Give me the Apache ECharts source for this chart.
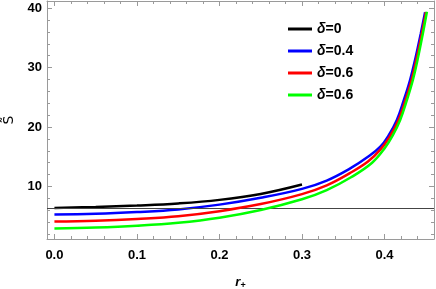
<!DOCTYPE html>
<html>
<head>
<meta charset="utf-8">
<script src="https://cdn.jsdelivr.net/npm/echarts@6/dist/echarts.min.js"></script>
<style>html,body{margin:0;padding:0;background:#fff}#c{width:436px;height:289px}</style>
</head>
<body>
<div id="c"></div>
<script>
// ---- data ----
const legendLabels = ['0', '0.4', '0.6', '0.6'];
const seriesColors = ['#000000', '#0000ff', '#ff0000', '#00ff00'];

const blackX = [0, 0.05, 0.1, 0.15, 0.2, 0.25, 0.3];
const blackY = [6.40, 6.55, 6.80, 7.15, 7.75, 8.75, 10.34];

const blueX = [0, 0.05, 0.1, 0.15, 0.2, 0.25, 0.3, 0.33, 0.358, 0.38, 0.395, 0.405, 0.415, 0.4235, 0.431, 0.437, 0.444, 0.4492];
const blueY = [5.28, 5.40, 5.70, 6.15, 6.95, 8.10, 9.60, 11.0, 13.0, 15.0, 16.7, 18.6, 21.2, 24.56, 27.91, 31.27, 35.75, 39.3];

const redX = [0, 0.05, 0.1, 0.15, 0.2, 0.25, 0.3, 0.33, 0.358, 0.38, 0.395, 0.406, 0.417, 0.4255, 0.4328, 0.4385, 0.4453, 0.4503];
const redY = [4.10, 4.25, 4.55, 5.00, 5.85, 7.05, 8.72, 10.2, 12.25, 14.2, 16.2, 18.3, 21.2, 24.56, 27.91, 31.27, 35.75, 39.35];

const greenX = [0, 0.05, 0.1, 0.15, 0.2, 0.25, 0.3, 0.33, 0.36, 0.385, 0.4, 0.41, 0.419, 0.4272, 0.4344, 0.440, 0.4465, 0.4514];
const greenY = [2.95, 3.10, 3.40, 3.90, 4.75, 6.05, 7.85, 9.4, 11.6, 14.0, 16.4, 18.6, 21.2, 24.56, 27.91, 31.27, 35.75, 39.38];

const refLineY = 6.38;

const xMajorTicks = [0, 0.1, 0.2, 0.3, 0.4];
const xMinorTicks = [0.02, 0.04, 0.06, 0.08, 0.12, 0.14, 0.16, 0.18, 0.22, 0.24, 0.26, 0.28, 0.32, 0.34, 0.36, 0.38, 0.42, 0.44];
const yMajorTicks = [10, 20, 30, 40];
const yMinorTicks = [2, 4, 6, 8, 12, 14, 16, 18, 22, 24, 26, 28, 32, 34, 36, 38];

const xRange = [-0.009, 0.46];
const yRange = [1.17, 41.2];
// --------------------------------------

const zip = (xs, ys) => xs.map((x, i) => [x, ys[i]]);
const allData = [zip(blackX, blackY), zip(blueX, blueY), zip(redX, redY), zip(greenX, greenY)];
const seriesNames = legendLabels.map((l, i) => 's' + i);

const axisGray = '#9a9a9a';
const FONT = 'Liberation Sans, Arial, sans-serif';
const labelFont = { color: '#000', fontWeight: 'bold', fontSize: 13, fontFamily: FONT };

function mkX(pos, ticks, len, showLabel, showLine, extra) {
  return Object.assign({
    type: 'value', position: pos, min: xRange[0], max: xRange[1],
    axisLine: { show: showLine, onZero: false, lineStyle: { color: axisGray, width: 1 } },
    axisTick: { show: true, inside: true, length: len, customValues: ticks, lineStyle: { color: axisGray, width: 1 } },
    axisLabel: showLabel ? Object.assign({ show: true, margin: 10, customValues: ticks, formatter: v => v.toFixed(1) }, labelFont) : { show: false },
    splitLine: { show: false }
  }, extra || {});
}
function mkY(pos, ticks, len, showLabel, showLine, extra) {
  return Object.assign({
    type: 'value', position: pos, min: yRange[0], max: yRange[1],
    axisLine: { show: showLine, onZero: false, lineStyle: { color: axisGray, width: 1 } },
    axisTick: { show: true, inside: true, length: len, customValues: ticks, lineStyle: { color: axisGray, width: 1 } },
    axisLabel: showLabel ? Object.assign({ show: true, margin: 5, customValues: ticks, formatter: v => String(Math.round(v)) }, labelFont) : { show: false },
    splitLine: { show: false }
  }, extra || {});
}

const chart = echarts.init(document.getElementById('c'), null, { renderer: 'canvas' });
chart.setOption({
  animation: false,
  backgroundColor: '#fff',
  grid: { left: 47, right: 2, top: 1, bottom: 50, show: false, containLabel: false, outerBoundsMode: 'none' },
  legend: {
    data: seriesNames,
    orient: 'vertical',
    left: 283, top: 17,
    itemWidth: 24, itemHeight: 3, itemGap: 8, itemTextGap: 10,
    icon: 'rect',
    formatter: name => {
      const i = seriesNames.indexOf(name);
      return '{d|δ}{v|=' + legendLabels[i] + '}';
    },
    textStyle: {
      rich: {
        d: { fontStyle: 'italic', fontWeight: 'bold', fontSize: 14, color: '#000', fontFamily: FONT, lineHeight: 16 },
        v: { fontWeight: 'bold', fontSize: 14, color: '#000', fontFamily: FONT, lineHeight: 16 }
      }
    }
  },
  xAxis: [
    mkX('bottom', xMajorTicks, 5, true, true, {
      name: '{r|r}{s|+}', nameLocation: 'middle', nameGap: 35,
      nameTextStyle: { rich: {
        r: { fontStyle: 'italic', fontWeight: 'bold', fontSize: 13, color: '#000', fontFamily: FONT },
        s: { fontWeight: 'bold', fontSize: 9, color: '#000', padding: [7, 0, 0, 0], fontFamily: FONT }
      } }
    }),
    mkX('bottom', xMinorTicks, 3, false, false),
    mkX('top', xMajorTicks, 5, false, true),
    mkX('top', xMinorTicks, 3, false, false)
  ],
  yAxis: [
    mkY('left', yMajorTicks, 5, true, true, {
      name: 'S\u0303', nameLocation: 'middle', nameGap: 31, nameRotate: 90,
      nameTextStyle: { fontSize: 14, color: '#000', fontFamily: 'DejaVu Sans, sans-serif' }
    }),
    mkY('left', yMinorTicks, 3, false, false),
    mkY('right', yMajorTicks, 5, false, true),
    mkY('right', yMinorTicks, 3, false, false)
  ],
  series: allData.map((d, i) => ({
    name: seriesNames[i],
    type: 'line',
    xAxisIndex: 0, yAxisIndex: 0,
    data: d,
    smooth: 0.4,
    showSymbol: false,
    symbol: 'none',
    color: seriesColors[i],
    lineStyle: { color: seriesColors[i], width: 2.5 },
    z: 3 + i,
    markLine: i === 0 ? {
      silent: true, symbol: 'none', label: { show: false },
      lineStyle: { color: '#444', width: 1, type: 'solid' },
      data: [{ yAxis: refLineY }]
    } : undefined
  }))
});
</script>
</body>
</html>
